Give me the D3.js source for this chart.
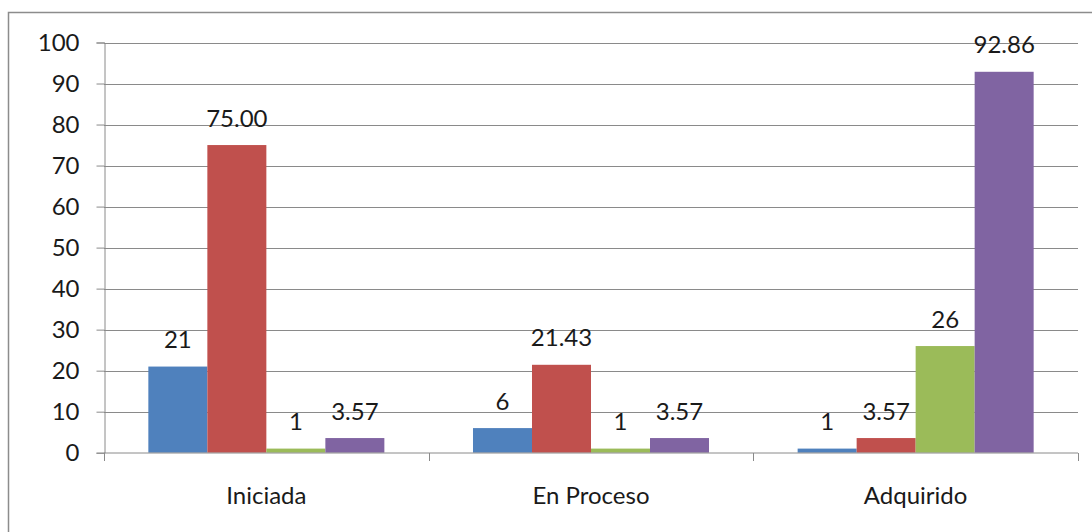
<!DOCTYPE html>
<html><head><meta charset="utf-8">
<script src="https://cdn.jsdelivr.net/npm/d3@7"></script>
<style>body{margin:0;background:#fff}svg{display:block}text{font-family:Lato,sans-serif;fill:#1a1a1a}</style>
</head><body><svg id="c" width="1092" height="532"></svg>
<script>
const categories = ["Iniciada", "En Proceso", "Adquirido"];
const seriesNames = ["S1", "S2", "S3", "S4"];
const s1 = [21, 6, 1];
const s2 = [75.00, 21.43, 3.57];
const s3 = [1, 1, 26];
const s4 = [3.57, 3.57, 92.86];
const seriesDecimals = [0, 2, 0, 2];
const colors = ["#4F81BD", "#C0504D", "#9BBB59", "#8064A2"];
const yTicks = [0,10,20,30,40,50,60,70,80,90,100];

const seriesVals = [s1, s2, s3, s4];
const svg = d3.select("#c");
const L = 104, R = 1078, T = 42.5, B = 452.7;
const fs = 24;

svg.append("rect").attr("x",8.5).attr("y",12.5).attr("width",1200).attr("height",700)
  .attr("fill","none").attr("stroke","#8c8c8c").attr("stroke-width",1.5);

const y = d3.scaleLinear().domain([0,100]).range([B,T]);
const x0 = d3.scaleBand().domain(categories).range([L,R]).paddingInner(0.273).paddingOuter(0.1366);
const x1 = d3.scaleBand().domain(seriesNames).range([0,x0.bandwidth()]);

svg.append("g").selectAll("line").data(yTicks.filter(d=>d>0)).join("line")
  .attr("x1",L).attr("x2",R).attr("y1",d=>Math.round(y(d))+0.5).attr("y2",d=>Math.round(y(d))+0.5)
  .attr("stroke","#8a8a8a").attr("stroke-width",1);

const ya = svg.append("g").attr("transform",`translate(${L+0.5},0)`)
  .call(d3.axisLeft(y).tickValues(yTicks).tickSize(8).tickPadding(17));
ya.select(".domain").attr("stroke","#8a8a8a");
ya.selectAll(".tick line").attr("stroke","#8a8a8a");
ya.selectAll(".tick text").attr("font-size",fs).attr("fill","#1a1a1a").attr("font-family","Lato, sans-serif");

const g = svg.append("g");
categories.forEach((c,ci)=>{
  seriesNames.forEach((s,si)=>{
    const v = seriesVals[si][ci];
    const bx = x0(c)+x1(s);
    g.append("rect").attr("x",bx).attr("y",y(v)).attr("width",x1.bandwidth()).attr("height",B-y(v))
      .attr("fill",colors[si]);
    g.append("text").attr("x",bx+x1.bandwidth()/2).attr("y",y(v)-18.5)
      .attr("text-anchor","middle").attr("font-size",fs)
      .text(v.toFixed(seriesDecimals[si]));
  });
});

const xa = svg.append("g").attr("transform",`translate(0,${B+0.3})`);
xa.append("line").attr("x1",L).attr("x2",R).attr("y1",0).attr("y2",0).attr("stroke","#8a8a8a");
[L, (L*2+R)/3, (L+R*2)/3, R].forEach(p=>{
  xa.append("line").attr("x1",Math.round(p)+0.5).attr("x2",Math.round(p)+0.5).attr("y1",0).attr("y2",8).attr("stroke","#8a8a8a");
});
categories.forEach(c=>{
  xa.append("text").attr("x",x0(c)+x0.bandwidth()/2).attr("y",51)
    .attr("text-anchor","middle").attr("font-size",fs).text(c);
});
</script></body></html>
